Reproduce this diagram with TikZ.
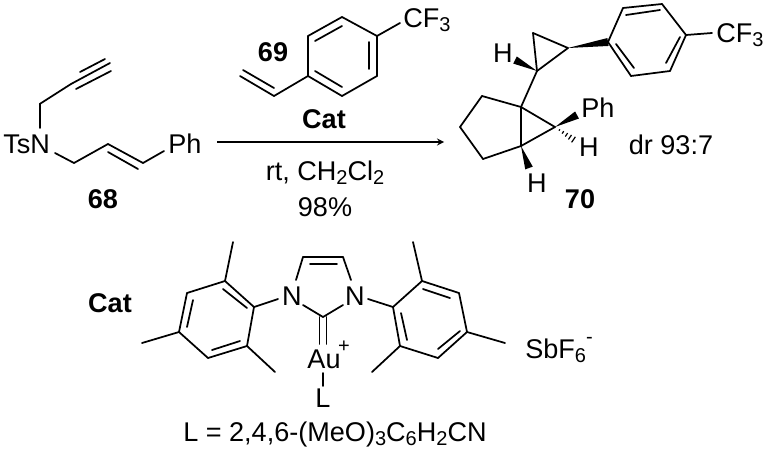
\documentclass[tikz,border=0pt]{standalone}
\usepackage{fontspec}
\setmainfont{Liberation Sans}
\usetikzlibrary{calc}
\newcommand{\lsub}[1]{\raisebox{-0.18em}{\fontsize{15}{15}\selectfont #1}}
\newcommand{\lsup}[1]{\raisebox{0.55em}{\fontsize{15}{15}\selectfont #1}}
\newcommand{\wbond}[2]{\fill ($(#1)$) -- ($(#2)!3pt!90:(#1)$) -- ($(#2)!3pt!-90:(#1)$) -- cycle;}
\newcommand{\hbond}[2]{\foreach \pos in {0.2,0.36,...,1.0}
    \draw[line width=0.9pt] ($(#1)!\pos!(#2)!\pos*3pt!90:(#2)$) -- ($(#1)!\pos!(#2)!\pos*3pt!-90:(#2)$);}
\tikzset{
   every path/.style={>=stealth},
   bond/.style={line width=1.3pt,line cap=round},
   lab/.style={anchor=base,inner sep=0pt,font=\fontsize{20.3}{20.3}\selectfont},
   blab/.style={lab,font=\fontsize{20.3}{20.3}\selectfont\bfseries},
   rxn/.style={->,line width=1.3pt},
}
\begin{document}
\begin{tikzpicture}[x=0.75pt,y=-0.75pt]
    \useasboundingbox (0,0) rectangle (766,450);

    % substrate
    \node[lab,anchor=base west] (tsn) at (3,153) {TsN};
    \node[lab,anchor=base west] (pha) at (168,153) {Ph};
    \node[blab] (n68) at (103,208) {68};
    \foreach \n/\x/\y in {sa/39.7/128,sb/39.7/104,sc/71/84,sd/110/63,su/80/72,sv/105/59,sl/76/89,sm/111/71,
        ae/55/153,af/74/163,ag/108/144,ah/143/163,ai/164/151,aj/108/152,ak/138/169}
        \coordinate (\n) at (\x,\y);
    \foreach \a/\b in {sa/sb,sb/sc,sc/sd,su/sv,sl/sm,ae/af,af/ag,ag/ah,ah/ai,aj/ak}
        \draw[bond] (\a) -- (\b);

    % reagent above the arrow
    \node[blab] (n69) at (273,61) {69};
    \node[lab,anchor=base west] (cfa) at (403,27) {CF\lsub{3}};
    \node[blab] (cata) at (324,128) {Cat};
    \foreach \n/\x/\y in {va/240/76,vb/274/96,vc/243/70,vd/274/88,ra/308/76,rb/308/36,rc/342/17,rd/377/36,re/377/76,rf/342/96,
        rg/315/41,rh/342/26,ri/369/42,rj/369/69,rk/315/71,rl/342/87,rm/400/23}
        \coordinate (\n) at (\x,\y);
    \foreach \a/\b in {va/vb,vc/vd,vb/ra,ra/rb,rb/rc,rc/rd,rd/re,re/rf,rf/ra,rg/rh,ri/rj,rk/rl,rd/rm}
        \draw[bond] (\a) -- (\b);

    % arrow
    \coordinate (arra) at (217,142);
    \coordinate (arrb) at (444,142);
    \draw[rxn] (arra) -- (arrb);
    \node[lab] (cond) at (325,180) {rt, CH\lsub{2}Cl\lsub{2}};
    \node[lab] (yield) at (325,216) {98\%};

    % product
    \node[lab] (ha) at (503,62) {H};
    \node[lab,anchor=base west] (phb) at (581,117) {Ph};
    \node[lab] (hb) at (589,156) {H};
    \node[lab] (hc) at (537,192) {H};
    \node[lab,anchor=base west] (cfb) at (716,42) {CF\lsub{3}};
    \node[lab] (dr) at (671,154) {dr 93:7};
    \node[blab] (n70) at (580,208) {70};
    \foreach \n/\x/\y in {pa/521/107,pb/521/146,pc/555/127,pd/482/96,pe/460/127,pf/483/159,
        pg/537/71,ph/533/33,pi/568/48,qa/608/42,qb/623/8,qc/662/4,qd/686/35,qe/670/71,qf/631/76,
        qg/626/15,qh/660/10,qi/680/37,qj/666/63,qk/616/44,ql/634/68,qm/712/33,
        wa/515/60,wb/577/115,wc/577/142,wd/529/168}
        \coordinate (\n) at (\x,\y);
    \foreach \a/\b in {pa/pb,pb/pc,pc/pa,pa/pd,pd/pe,pe/pf,pf/pb,pa/pg,pg/ph,ph/pi,pi/pg,
        qa/qb,qb/qc,qc/qd,qd/qe,qe/qf,qf/qa,qg/qh,qi/qj,qk/ql,qd/qm}
        \draw[bond] (\a) -- (\b);
    \wbond{pi}{qa}
    \wbond{pg}{wa}
    \wbond{pc}{wb}
    \wbond{pb}{wd}
    \hbond{pc}{wc}

    % catalyst
    \node[blab] (catb) at (110,312) {Cat};
    \node[lab] (na) at (292,305) {N};
    \node[lab] (nb) at (355,305) {N};
    \node[lab] (au) at (324,368) {Au};
    \node[lab] (aup) at (344,352) {\fontsize{15}{15}\selectfont +};
    \node[lab] (lig) at (323,407) {L};
    \node[lab,anchor=base west] (sbf) at (525,358) {SbF\lsub{6}\lsup{-}};
    \node[lab,anchor=base west] (ldef) at (183,441) {L = 2,4,6-(MeO)\lsub{3}C\lsub{6}H\lsub{2}CN};
    \foreach \n/\x/\y in {ia/296/280,ib/303/257,ic/343/257,id/351/280,ie/303/305,if/323/317,ig/343/305,
        ih/310/264,ii/337/264,ij/319.5/317,ik/319.5/344,il/326.5/317,im/326.5/344,in/323/373,io/323/386,
        ma/254/307,mb/225/281,mc/187/293,md/179/332,me/208/358,mf/247/346,mg/278/299,
        mh/233/242,mi/142/343,mj/275/372,mk/223/289,ml/247/308,mm/193/300,mn/187/327,mo/212/350,mp/240/341,
        oa/393/307,ob/422/281,oc/459/293,od/467/332,oe/438/358,of/400/346,og/368/299,
        oh/413/242,oi/505/343,oj/372/372,ok/423/289,ol/450/298,om/460/331,on/438/349,oo/401/313,op/407/340}
        \coordinate (\n) at (\x,\y);
    \foreach \a/\b in {ia/ib,ib/ic,ic/id,ie/if,if/ig,ih/ii,ij/ik,il/im,in/io,
        ma/mb,mb/mc,mc/md,md/me,me/mf,mf/ma,ma/mg,mb/mh,md/mi,mf/mj,mk/ml,mm/mn,mo/mp,
        oa/ob,ob/oc,oc/od,od/oe,oe/of,of/oa,oa/og,ob/oh,od/oi,of/oj,ok/ol,om/on,oo/op}
        \draw[bond] (\a) -- (\b);
\end{tikzpicture}
\end{document}
